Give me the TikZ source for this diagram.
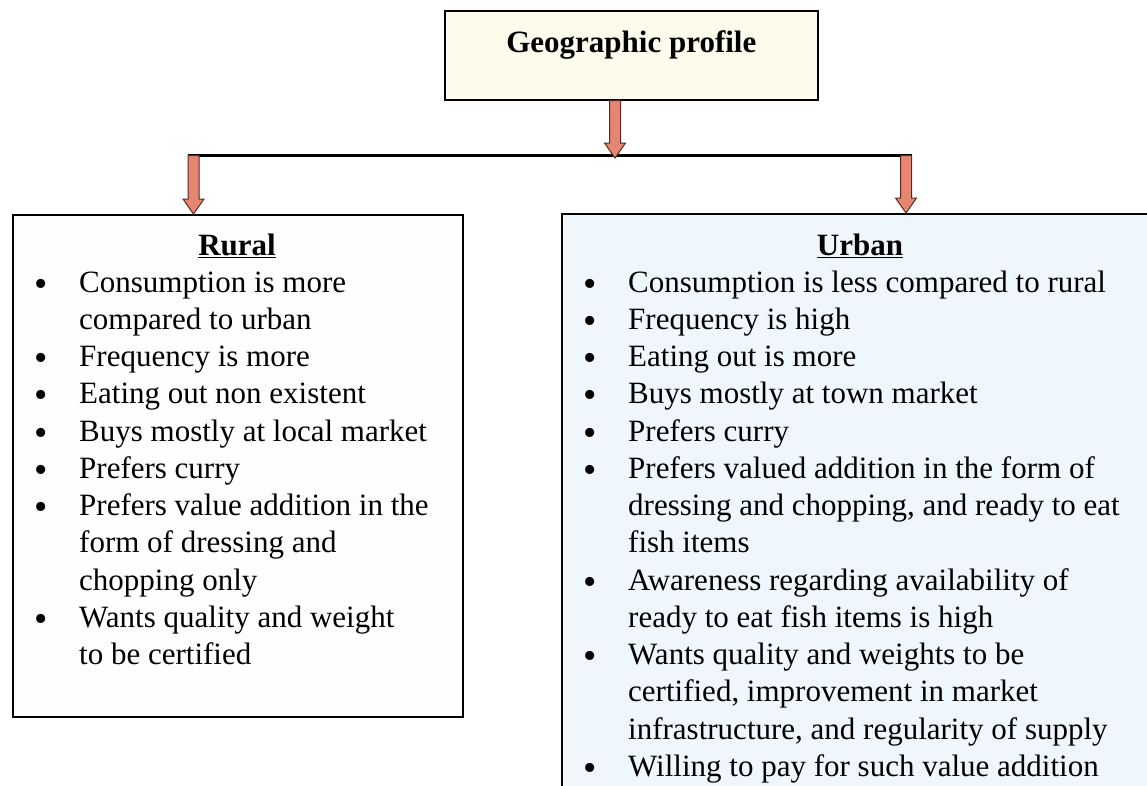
\documentclass[tikz,border=0pt]{standalone}
\usepackage{fontspec}
\setmainfont{Liberation Serif}
\usetikzlibrary{calc}

\definecolor{topfill}{RGB}{252,251,236}
\definecolor{ruralfill}{RGB}{254,254,252}
\definecolor{urbanfill}{RGB}{240,247,252}
\definecolor{arrowfill}{RGB}{229,134,114}
\definecolor{arrowedge}{RGB}{90,42,32}

% vertical block arrow from the point #1 down to the point #2
\newcommand\blockdown[2]{%
  \filldraw[arrowbody] let \p1=(#1), \p2=(#2) in
    (\x1-5.5pt,\y1) -- (\x1+5.5pt,\y1) -- (\x1+5.5pt,\y2+15pt)
    -- (\x1+10.5pt,\y2+15pt) -- (\x1,\y2) -- (\x1-10.5pt,\y2+15pt)
    -- (\x1-5.5pt,\y2+15pt) -- cycle;}

\newcommand\bodyfont{\fontsize{31}{37.25}\selectfont}

\tikzset{
  panel/.style={draw=black, line width=1.6pt, inner sep=0pt, anchor=north west},
  arrowbody/.style={fill=arrowfill, draw=arrowedge, line width=1pt, line join=miter},
  branch/.style={draw=black, line width=3pt},
  heading/.style={anchor=base, inner sep=0pt, font=\bodyfont\bfseries},
  itemlist/.style={anchor=base west, inner sep=0pt, align=left, font=\bodyfont},
}

% list bullet, a little larger than the text font's own, centred on the x-height
\newcommand\itm{\raisebox{-4pt}[0pt][0pt]{\fontsize{38}{30}\selectfont\textbullet}}

\begin{document}
\begin{tikzpicture}[x=1pt, y=-1pt, font=\bodyfont]
  \useasboundingbox (0,0) rectangle (1147,785);
  \clip (0,0) rectangle (1147,785);

  % top box
  \node[panel, fill=topfill, minimum width=373pt, text height=42pt, text depth=47pt,
        font=\bodyfont\bfseries] (geo) at (444,10) {Geographic profile};

  % branch boxes
  \node[panel, fill=ruralfill, minimum width=450pt, minimum height=502pt] (rural) at (12,214) {};
  \node[panel, fill=urbanfill, minimum width=620pt, minimum height=620pt] (urban) at (561,213) {};

  % branch line
  \coordinate (hub) at (615,158);
  \coordinate (lc) at (193.5,155.5);
  \coordinate (rc) at (906,155.5);
  \draw[branch] ($(lc)+(-5.5,0)$) -- ($(rc)+(5.5,0)$);

  % arrows
  \blockdown{geo.south -| hub}{hub}
  \blockdown{lc}{rural.north -| lc}
  \blockdown{rc}{urban.north -| rc}

  % headings
  \node[heading] (ruraltitle) at (237,255) {\underline{Rural}};
  \node[heading] (urbantitle) at (860,255) {\underline{Urban}};

  % rural list
  \node[itemlist] (ruralitems) at (34,292) {%
    \begin{tabular}[t]{@{}p{45pt}@{}l@{}}
      \itm & Consumption is more\\
           & compared to urban\\
      \itm & Frequency is more\\
      \itm & Eating out non existent\\
      \itm & Buys mostly at local market\\
      \itm & Prefers curry\\
      \itm & Prefers value addition in the\\
           & form of dressing and\\
           & chopping only\\
      \itm & Wants quality and weight\\
           & to be certified
    \end{tabular}};

  % urban list
  \node[itemlist] (urbanitems) at (583,292) {%
    \begin{tabular}[t]{@{}p{45pt}@{}l@{}}
      \itm & Consumption is less compared to rural\\
      \itm & Frequency is high\\
      \itm & Eating out is more\\
      \itm & Buys mostly at town market\\
      \itm & Prefers curry\\
      \itm & Prefers valued addition in the form of\\
           & dressing and chopping, and ready to eat\\
           & fish items\\
      \itm & Awareness regarding availability of\\
           & ready to eat fish items is high\\
      \itm & Wants quality and weights to be\\
           & certified, improvement in market\\
           & infrastructure, and regularity of supply\\
      \itm & Willing to pay for such value addition
    \end{tabular}};
\end{tikzpicture}
\end{document}
